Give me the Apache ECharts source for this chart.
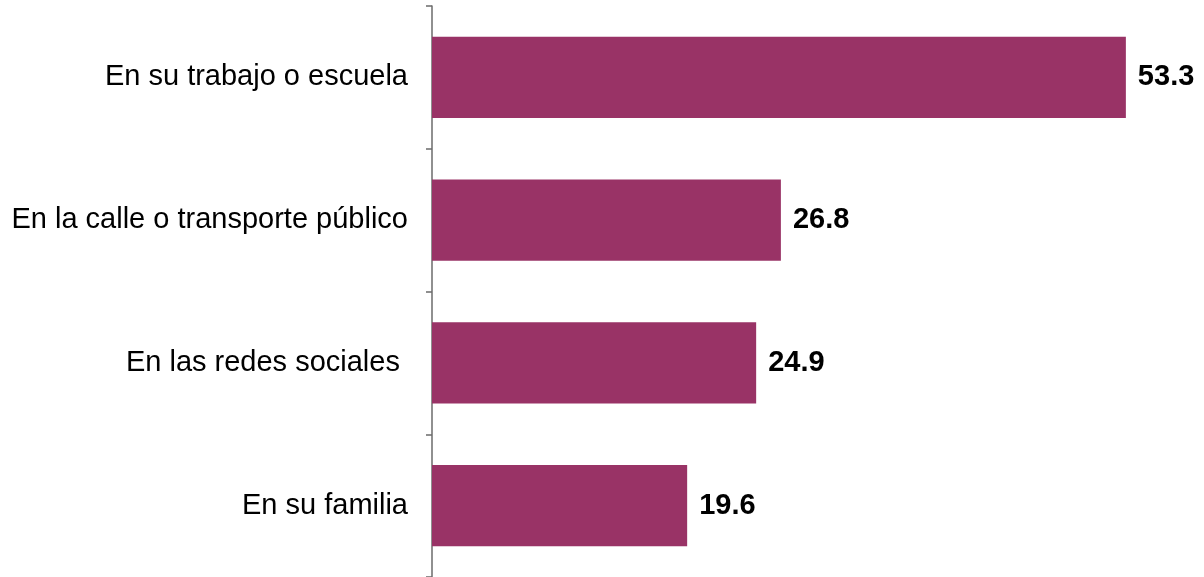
<!DOCTYPE html>
<html>
<head>
<meta charset="utf-8">
<script src="https://cdn.jsdelivr.net/npm/echarts@6/dist/echarts.min.js"></script>
<style>html,body{margin:0;padding:0;background:#fff;}#c{width:1204px;height:577px;}</style>
</head>
<body>
<div id="c"></div>
<script>
var categories = ["En su trabajo o escuela", "En la calle o transporte público", "En las redes sociales ", "En su familia"];
var values = [53.3, 26.8, 24.9, 19.6];

var chart = echarts.init(document.getElementById('c'), null, {renderer: 'canvas'});
chart.setOption({
  animation: false,
  backgroundColor: '#ffffff',
  grid: {left: 432, right: 56, top: 6, bottom: -2, containLabel: false},
  xAxis: {type: 'value', min: 0, max: 55, show: false},
  yAxis: {
    type: 'category', data: categories, inverse: true,
    axisLine: {show: true, lineStyle: {color: '#6b6b6b', width: 1.5}},
    axisTick: {show: true, length: 6, lineStyle: {color: '#6b6b6b', width: 1.5}},
    axisLabel: {color: '#000', fontFamily: '"Liberation Sans", Arial, sans-serif', fontSize: 29, margin: 24},
    splitLine: {show: false}
  },
  series: [{
    type: 'bar', data: values, barWidth: '57%',
    itemStyle: {color: '#993366'},
    label: {show: true, position: 'right', distance: 12, color: '#000', fontFamily: '"Liberation Sans", Arial, sans-serif', fontSize: 29, fontWeight: 'bold', formatter: function(p){return p.value.toFixed(1);}}
  }]
});
</script>
</body>
</html>
